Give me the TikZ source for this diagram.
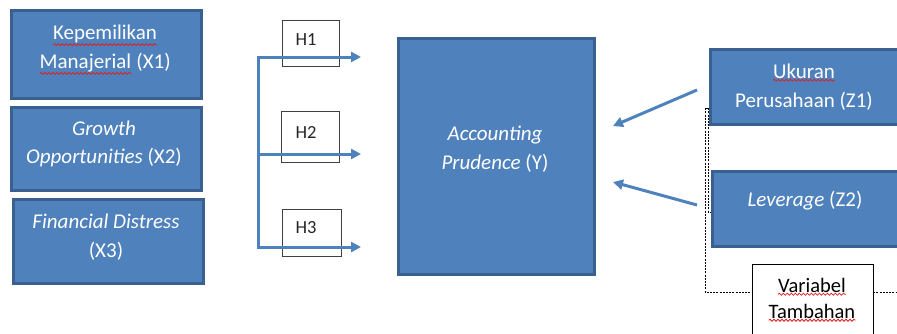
\documentclass[tikz,border=0pt]{standalone}
\usepackage{fontspec}
\setmainfont{Carlito}
\usetikzlibrary{arrows.meta,decorations.pathmorphing}
\definecolor{boxblue}{HTML}{4F81BD}
\definecolor{boxedge}{HTML}{3A6090}
\definecolor{arrblue}{HTML}{4F81BD}
\definecolor{wavered}{HTML}{E02020}
\newcommand\spellmark[1]{\tikz[baseline=(sw.base)]{\node[inner sep=0pt,outer sep=0pt] (sw) {#1};\draw[wavered,line width=0.8pt,decorate,decoration={snake,amplitude=1pt,segment length=4pt}] ([yshift=-1.5pt]sw.south west) -- ([yshift=-1.5pt]sw.south east);}}
\begin{document}
\begin{tikzpicture}[x=1pt,y=-1pt,
  bluebox/.style={draw=boxedge,fill=boxblue,line width=2.5pt,inner sep=0pt,anchor=north west},
  boxtext/.style={text=white,align=center,font=\fontsize{21}{28.5}\selectfont,inner sep=0pt},
  hbox/.style={draw=black!75,fill=white,line width=0.9pt,inner sep=0pt,anchor=north west},
  hlabel/.style={font=\fontsize{18.5}{22}\selectfont,text=black!85,inner sep=0pt},
  varbox/.style={draw=black,fill=white,line width=1pt,inner sep=0pt,anchor=north west},
  vartext/.style={text=black,align=center,font=\fontsize{20.5}{26}\selectfont,inner sep=0pt},
  link/.style={draw=arrblue,line width=3pt,-{Triangle[length=10pt,width=10pt]}},
  linkboth/.style={draw=arrblue,line width=3pt,{Triangle[length=10pt,width=10pt]}-{Triangle[length=10pt,width=10pt]}},
  dashline/.style={draw=black,line width=1pt,dash pattern=on 2pt off 1.2pt}]
\useasboundingbox (0,0) rectangle (897,333);
\clip (0,0) rectangle (897,333);

% dashed bracket
\coordinate (d1) at (711,108);
\coordinate (d2) at (708,108);
\coordinate (d3) at (708,212);
\coordinate (d4) at (712,212);
\coordinate (e1) at (705,108);
\coordinate (e2) at (705,292);
\coordinate (e3) at (905,292);
\draw[dashline] (d1) -- (d2) -- (d3) -- (d4);
\draw[dashline] (d2) -- (e1) -- (e2) -- (e3);

% left boxes
\node[bluebox,minimum width=190pt,minimum height=88pt] (x1) at (10,9) {};
\node[bluebox,minimum width=190pt,minimum height=83pt] (x2) at (10,106) {};
\node[bluebox,minimum width=190pt,minimum height=84pt] (x3) at (12,198) {};
\node[boxtext] (x1t) at (105,50) {\spellmark{Kepemilikan}\\\spellmark{Manajerial} (X1)};
\node[boxtext] (x2t) at (104,144) {\textit{Growth}\\\textit{Opportunities} (X2)};
\node[boxtext] (x3t) at (106,237) {\textit{Financial Distress}\\(X3)};

% central box
\node[bluebox,minimum width=196pt,minimum height=236pt] (yb) at (397,37) {};
\node[boxtext] (yt) at (495,149) {\textit{Accounting}\\\textit{Prudence} (Y)};

% right boxes
\node[bluebox,minimum width=200pt,minimum height=75pt] (z1) at (709,48) {};
\node[bluebox,minimum width=200pt,minimum height=75pt] (z2) at (711,170) {};
\node[boxtext] (z1t) at (804,87) {\spellmark{Ukuran}\\Perusahaan (Z1)};
\node[boxtext] (z2t) at (805,201) {\textit{Leverage} (Z2)};

% variabel tambahan
\node[varbox,minimum width=121pt,minimum height=80pt] (vb) at (752,264) {};
\node[vartext] (vt) at (812,300) {\spellmark{Variabel}\\\spellmark{Tambahan}};

% hypothesis boxes
\node[hbox,minimum width=57pt,minimum height=46pt] (h1) at (282,20) {};
\node[hbox,minimum width=58pt,minimum height=51pt] (h2) at (281,111) {};
\node[hbox,minimum width=59pt,minimum height=47pt] (h3) at (282,209) {};
\node[hlabel] (h1t) at (306,40) {H1};
\node[hlabel] (h2t) at (306,132) {H2};
\node[hlabel] (h3t) at (306,228) {H3};

% hypothesis arrows
\coordinate (hc1) at (258,57);
\coordinate (hc2) at (258,154);
\coordinate (hc3) at (258,247);
\coordinate (he1) at (361,57);
\coordinate (he2) at (361,154);
\coordinate (he3) at (361,247);
\draw[linkboth] (he1) -- (hc1) -- (hc3) -- (he3);
\draw[link] (hc2) -- (he2);

% moderator arrows
\coordinate (z1s) at (697,90);
\coordinate (z1e) at (613,126);
\coordinate (z2s) at (697,205);
\coordinate (z2e) at (613,182);
\draw[link] (z1s) -- (z1e);
\draw[link] (z2s) -- (z2e);
\end{tikzpicture}
\end{document}
